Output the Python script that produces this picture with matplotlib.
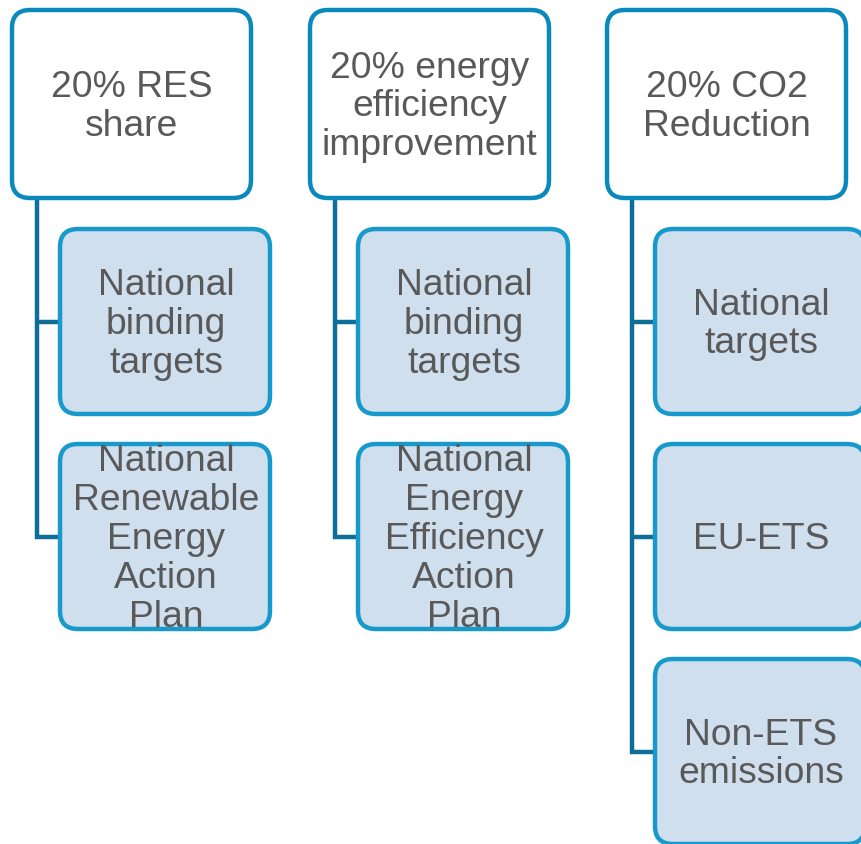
import matplotlib
matplotlib.use("Agg")
import matplotlib.pyplot as plt
from matplotlib.patches import FancyBboxPatch

# --- content ---
targets = ["20% RES\nshare", "20% energy\nefficiency\nimprovement", "20% CO2\nReduction"]
children = [
    ["National\nbinding\ntargets", "National\nRenewable\nEnergy\nAction\nPlan"],
    ["National\nbinding\ntargets", "National\nEnergy\nEfficiency\nAction\nPlan"],
    ["National\ntargets", "EU-ETS", "Non-ETS\nemissions"],
]

# --- layout (pixel coordinates, y downwards) ---
W, H = 861, 844
top_x = [12, 310, 607]
top_w, top_y, top_h = 239, 10, 188
child_dx, child_w, child_h = 48, 210, 185
child_y0, child_step = 229, 215
conn_dx = 25

top_edge = "#0a89bb"
child_edge = "#1799cc"
child_fill = "#cfdfed"
conn_color = "#0d6e98"
text_color = "#595959"
font = "Liberation Sans"
fs = 26.8
ls = 1.14

fig = plt.figure(figsize=(W / 100, H / 100), dpi=100)
ax = fig.add_axes([0, 0, 1, 1])
ax.set_xlim(0, W)
ax.set_ylim(H, 0)
ax.axis("off")

r = 18
for i, (tx, label) in enumerate(zip(top_x, targets)):
    kids = children[i]
    cx = tx + conn_dx
    last_center = child_y0 + (len(kids) - 1) * child_step + child_h / 2
    ax.plot([cx, cx, cx + child_dx], [top_y + top_h, last_center, last_center],
            color=conn_color, lw=3.2, solid_capstyle="butt", solid_joinstyle="miter", zorder=1)
    for j in range(len(kids) - 1):
        yc = child_y0 + j * child_step + child_h / 2
        ax.plot([cx, tx + child_dx], [yc, yc], color=conn_color, lw=3.2,
                solid_capstyle="butt", zorder=1)

    ax.add_patch(FancyBboxPatch((tx + r, top_y + r), top_w - 2 * r, top_h - 2 * r,
                                boxstyle=f"round,pad={r}", fc="white", ec=top_edge,
                                lw=3.2, zorder=2))
    ax.text(tx + top_w / 2, top_y + 97, label, ha="center", va="center",
            fontsize=fs, color=text_color, family=font, linespacing=ls, zorder=3)

    for j, kl in enumerate(kids):
        x0 = tx + child_dx
        y0 = child_y0 + j * child_step
        ax.add_patch(FancyBboxPatch((x0 + r, y0 + r), child_w - 2 * r, child_h - 2 * r,
                                    boxstyle=f"round,pad={r}", fc=child_fill, ec=child_edge,
                                    lw=3.2, zorder=2))
        ax.text(x0 + child_w / 2 + 1, y0 + child_h / 2 + 3, kl, ha="center", va="center",
                fontsize=fs, color=text_color, family=font, linespacing=ls, zorder=3)

fig.savefig("out.png", dpi=100)
